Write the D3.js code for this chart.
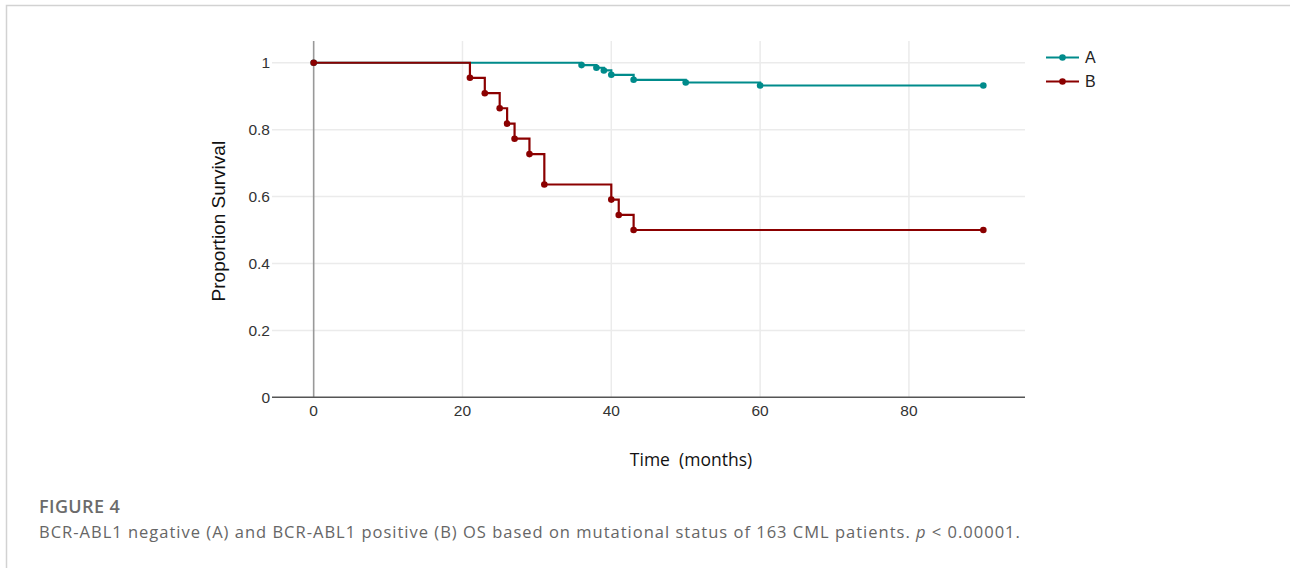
<!DOCTYPE html>
<html>
<head>
<meta charset="utf-8">
<script src="https://cdn.jsdelivr.net/npm/d3@7"></script>
<style>
  body { margin: 0; background: #fff; }
</style>
</head>
<body>
<div id="chart"></div>
<script>
// data
const timesA = [0, 36, 38, 39, 40, 43, 50, 60, 90];
const survA = [1, 0.993, 0.985, 0.977, 0.964, 0.949, 0.941, 0.932, 0.932];
const timesB = [0, 21, 23, 25, 26, 27, 29, 31, 40, 41, 43, 90];
const survB = [1, 0.955, 0.909, 0.864, 0.818, 0.773, 0.727, 0.636, 0.591, 0.545, 0.5, 0.5];
const seriesNames = ["A", "B"];
const seriesColors = ["#008b8b", "#8b0000"];
const xTicks = [0, 20, 40, 60, 80];
const yTicks = [0, 0.2, 0.4, 0.6, 0.8, 1];
const captionTitle = "FIGURE 4";
const captionText = "BCR-ABL1 negative (A) and BCR-ABL1 positive (B) OS based on mutational status of 163 CML patients. ";

const W = 1290, H = 568;
const plot = { left: 272, right: 1025, top: 41, bottom: 397.3 };

const svg = d3.select("#chart").append("svg")
  .attr("width", W)
  .attr("height", H);

// frame of the figure panel
svg.append("path")
  .attr("d", `M6.5,${H} V5.5 H${W}`)
  .attr("fill", "none")
  .attr("stroke", "#d2d2d2")
  .attr("stroke-width", 1.5);

const x = d3.scaleLinear().domain([-5.6, 95.6]).range([plot.left, plot.right]);
const y = d3.scaleLinear().domain([0, 1.065]).range([plot.bottom, plot.top]);

// grid
const grid = svg.append("g");
grid.selectAll("line.vg")
  .data(xTicks.filter((d) => d !== 0))
  .join("line")
  .attr("x1", (d) => x(d)).attr("x2", (d) => x(d))
  .attr("y1", plot.top).attr("y2", plot.bottom)
  .attr("stroke", "#ebebeb")
  .attr("stroke-width", 1.5);
grid.selectAll("line.hg")
  .data(yTicks.filter((d) => d !== 0))
  .join("line")
  .attr("x1", plot.left).attr("x2", plot.right)
  .attr("y1", (d) => y(d)).attr("y2", (d) => y(d))
  .attr("stroke", "#ebebeb")
  .attr("stroke-width", 1.5);

// zero lines
svg.append("line")
  .attr("x1", x(0)).attr("x2", x(0))
  .attr("y1", plot.top).attr("y2", plot.bottom)
  .attr("stroke", "#999")
  .attr("stroke-width", 1.6);
svg.append("line")
  .attr("x1", plot.left).attr("x2", plot.right)
  .attr("y1", y(0)).attr("y2", y(0))
  .attr("stroke", "#555")
  .attr("stroke-width", 1.6);

// tick labels
svg.append("g")
  .selectAll("text")
  .data(xTicks)
  .join("text")
  .attr("x", (d) => x(d))
  .attr("y", plot.bottom + 13)
  .attr("dy", "0.35em")
  .attr("text-anchor", "middle")
  .attr("font-family", "Liberation Sans, Arial, sans-serif")
  .attr("font-size", 15.5)
  .attr("fill", "#333")
  .text((d) => d);
svg.append("g")
  .selectAll("text")
  .data(yTicks)
  .join("text")
  .attr("x", plot.left - 2)
  .attr("y", (d) => y(d))
  .attr("dy", "0.35em")
  .attr("text-anchor", "end")
  .attr("font-family", "Liberation Sans, Arial, sans-serif")
  .attr("font-size", 15.5)
  .attr("fill", "#333")
  .text((d) => d3.format("~g")(d));

// axis titles
svg.append("text")
  .attr("transform", `translate(218, ${(plot.top + plot.bottom) / 2 + 2}) rotate(-90)`)
  .attr("text-anchor", "middle")
  .attr("dy", "0.35em")
  .attr("font-family", "Liberation Sans, Arial, sans-serif")
  .attr("font-size", 19)
  .attr("fill", "#111")
  .text("Proportion Survival");
svg.append("text")
  .attr("x", 691)
  .attr("y", 460)
  .attr("dy", "0.35em")
  .attr("text-anchor", "middle")
  .attr("font-family", "Open Sans, sans-serif")
  .attr("font-size", 17.5)
  .attr("fill", "#111")
  .style("white-space", "pre")
  .text("Time  (months)");

// survival curves
const series = [
  { name: seriesNames[0], color: seriesColors[0], pts: timesA.map((t, i) => [t, survA[i]]) },
  { name: seriesNames[1], color: seriesColors[1], pts: timesB.map((t, i) => [t, survB[i]]) },
];
const line = d3.line()
  .x((d) => x(d[0]))
  .y((d) => y(d[1]))
  .curve(d3.curveStepAfter);

const curves = svg.append("g");
series.forEach((s) => {
  const g = curves.append("g");
  g.append("path")
    .attr("d", line(s.pts))
    .attr("fill", "none")
    .attr("stroke", s.color)
    .attr("stroke-width", 2.2);
  g.selectAll("circle")
    .data(s.pts)
    .join("circle")
    .attr("cx", (d) => x(d[0]))
    .attr("cy", (d) => y(d[1]))
    .attr("r", 3.3)
    .attr("fill", s.color);
});

// legend
const legend = svg.append("g")
  .selectAll("g")
  .data(series)
  .join("g")
  .attr("transform", (d, i) => `translate(1046, ${57.5 + i * 24})`);
legend.append("line")
  .attr("x1", 0).attr("x2", 33)
  .attr("stroke", (d) => d.color)
  .attr("stroke-width", 2.2);
legend.append("circle")
  .attr("cx", 16.5)
  .attr("r", 3.3)
  .attr("fill", (d) => d.color);
legend.append("text")
  .attr("x", 39)
  .attr("dy", "0.35em")
  .attr("font-family", "Liberation Sans, Arial, sans-serif")
  .attr("font-size", 16)
  .attr("fill", "#222")
  .text((d) => d.name);

// caption
svg.append("text")
  .attr("x", 39)
  .attr("y", 513)
  .attr("font-family", "Open Sans, sans-serif")
  .attr("font-size", 18)
  .attr("font-weight", 600)
  .attr("letter-spacing", 0.4)
  .attr("fill", "#6b6b6b")
  .text(captionTitle);
const cap = svg.append("text")
  .attr("x", 39)
  .attr("y", 538)
  .attr("font-family", "Open Sans, sans-serif")
  .attr("font-size", 16.5)
  .attr("letter-spacing", 1)
  .attr("fill", "#666")
  .text(captionText);
cap.append("tspan").attr("font-style", "italic").text("p");
cap.append("tspan").text(" < 0.00001.");
</script>
</body>
</html>
